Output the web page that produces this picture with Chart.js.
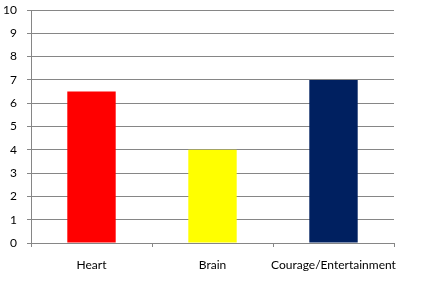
<!DOCTYPE html>
<html>
<head>
<meta charset="utf-8">
<script src="https://cdn.jsdelivr.net/npm/chart.js@4/dist/chart.umd.min.js"></script>
<style>
html,body{margin:0;padding:0;background:#fff;}
#wrap{width:445px;height:291px;position:relative;}
</style>
</head>
<body>
<div id="wrap"><canvas id="c" width="445" height="291"></canvas></div>
<script>
const categories = ["Heart", "Brain", "Courage/Entertainment"];
const values = [6.5, 4, 7];
const barColors = ["#FF0000", "#FFFF00", "#002060"];
const yTicks = [0, 1, 2, 3, 4, 5, 6, 7, 8, 9, 10];

const gridColor = "#868686";
new Chart(document.getElementById("c"), {
  type: "bar",
  data: {
    labels: categories,
    datasets: [{
      data: values,
      backgroundColor: barColors,
      borderWidth: 0,
      barPercentage: 0.4,
      categoryPercentage: 1.0
    }]
  },
  options: {
    responsive: false,
    animation: false,
    devicePixelRatio: 1,
    layout: { padding: { top: 10, right: 51, left: 0, bottom: 0 } },
    plugins: { legend: { display: false }, tooltip: { enabled: false } },
    scales: {
      x: {
        grid: { drawOnChartArea: false, drawTicks: true, tickLength: 4, color: gridColor, offset: true },
        border: { color: gridColor },
        ticks: { color: "#000", font: { family: "Lato", size: 12 }, padding: 11, maxRotation: 0, autoSkip: false },
        afterFit: (s) => { s.height = 48; s.paddingLeft = 0; s.paddingRight = 0; }
      },
      y: {
        min: 0, max: 10,
        afterBuildTicks: (s) => { s.ticks = yTicks.map(v => ({ value: v })); },
        grid: { color: gridColor, tickLength: 4 },
        border: { color: gridColor },
        ticks: { color: "#000", font: { family: "Lato", size: 12 }, padding: 10 },
        afterFit: (s) => { s.width = 31; s.paddingTop = 0; s.paddingBottom = 0; }
      }
    }
  }
});
</script>
</body>
</html>
